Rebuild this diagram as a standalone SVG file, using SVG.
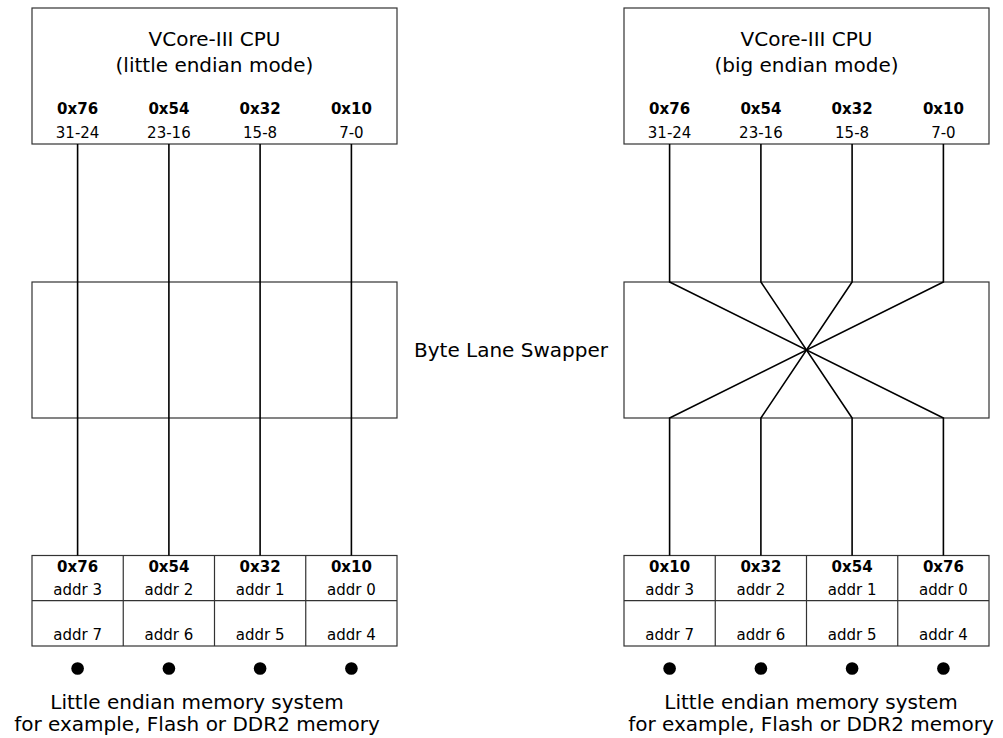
<svg xmlns="http://www.w3.org/2000/svg" width="1003" height="738" viewBox="0 0 1003 738">
<style>
.box{fill:#fff;stroke:#333;stroke-width:1.2}
.wire{fill:none;stroke:#000;stroke-width:1.6}
.t{font-family:"DejaVu Sans",Verdana,sans-serif;fill:#000;text-anchor:middle}
.big{font-size:20px}
.hex{font-size:15px;font-weight:bold}
.sm{font-size:15px}
.dot{fill:#000}
</style>
<rect width="1003" height="738" fill="#fff"/>
<g id="cpu-le">
<rect class="box" x="32" y="8" width="365" height="136"/>
<text class="t big" x="214.5" y="46">VCore-III CPU</text>
<text class="t big" x="214.5" y="72">(little endian mode)</text>
<text class="t hex" x="77.6" y="114">0x76</text>
<text class="t hex" x="168.9" y="114">0x54</text>
<text class="t hex" x="260.1" y="114">0x32</text>
<text class="t hex" x="351.4" y="114">0x10</text>
<text class="t sm" x="77.6" y="138">31-24</text>
<text class="t sm" x="168.9" y="138">23-16</text>
<text class="t sm" x="260.1" y="138">15-8</text>
<text class="t sm" x="351.4" y="138">7-0</text>
</g>
<g id="cpu-be">
<rect class="box" x="624" y="8" width="365" height="136"/>
<text class="t big" x="806.5" y="46">VCore-III CPU</text>
<text class="t big" x="806.5" y="72">(big endian mode)</text>
<text class="t hex" x="669.6" y="114">0x76</text>
<text class="t hex" x="760.9" y="114">0x54</text>
<text class="t hex" x="852.1" y="114">0x32</text>
<text class="t hex" x="943.4" y="114">0x10</text>
<text class="t sm" x="669.6" y="138">31-24</text>
<text class="t sm" x="760.9" y="138">23-16</text>
<text class="t sm" x="852.1" y="138">15-8</text>
<text class="t sm" x="943.4" y="138">7-0</text>
</g>
<g id="swapper-le">
<rect class="box" x="32" y="282" width="365" height="136"/>
</g>
<g id="swapper-be">
<rect class="box" x="624" y="282" width="365" height="136"/>
</g>
<g id="swapper-label">
<text class="t big" x="511" y="357">Byte Lane Swapper</text>
</g>
<g id="mem-le">
<rect class="box" x="32" y="555.5" width="365" height="90.5"/>
<path class="box" d="M32 600.7H397M123.25 555.5V646M214.5 555.5V646M305.75 555.5V646"/>
<text class="t hex" x="77.6" y="571.5">0x76</text>
<text class="t hex" x="168.9" y="571.5">0x54</text>
<text class="t hex" x="260.1" y="571.5">0x32</text>
<text class="t hex" x="351.4" y="571.5">0x10</text>
<text class="t sm" x="77.6" y="594.5">addr 3</text>
<text class="t sm" x="168.9" y="594.5">addr 2</text>
<text class="t sm" x="260.1" y="594.5">addr 1</text>
<text class="t sm" x="351.4" y="594.5">addr 0</text>
<text class="t sm" x="77.6" y="640">addr 7</text>
<text class="t sm" x="168.9" y="640">addr 6</text>
<text class="t sm" x="260.1" y="640">addr 5</text>
<text class="t sm" x="351.4" y="640">addr 4</text>
<circle class="dot" cx="77.6" cy="668.5" r="6.3"/>
<circle class="dot" cx="168.9" cy="668.5" r="6.3"/>
<circle class="dot" cx="260.1" cy="668.5" r="6.3"/>
<circle class="dot" cx="351.4" cy="668.5" r="6.3"/>
<text class="t big" x="197" y="709">Little endian memory system</text>
<text class="t big" x="197" y="731">for example, Flash or DDR2 memory</text>
</g>
<g id="mem-be">
<rect class="box" x="624" y="555.5" width="365" height="90.5"/>
<path class="box" d="M624 600.7H989M715.25 555.5V646M806.5 555.5V646M897.75 555.5V646"/>
<text class="t hex" x="669.6" y="571.5">0x10</text>
<text class="t hex" x="760.9" y="571.5">0x32</text>
<text class="t hex" x="852.1" y="571.5">0x54</text>
<text class="t hex" x="943.4" y="571.5">0x76</text>
<text class="t sm" x="669.6" y="594.5">addr 3</text>
<text class="t sm" x="760.9" y="594.5">addr 2</text>
<text class="t sm" x="852.1" y="594.5">addr 1</text>
<text class="t sm" x="943.4" y="594.5">addr 0</text>
<text class="t sm" x="669.6" y="640">addr 7</text>
<text class="t sm" x="760.9" y="640">addr 6</text>
<text class="t sm" x="852.1" y="640">addr 5</text>
<text class="t sm" x="943.4" y="640">addr 4</text>
<circle class="dot" cx="669.6" cy="668.5" r="6.3"/>
<circle class="dot" cx="760.9" cy="668.5" r="6.3"/>
<circle class="dot" cx="852.1" cy="668.5" r="6.3"/>
<circle class="dot" cx="943.4" cy="668.5" r="6.3"/>
<text class="t big" x="811" y="709">Little endian memory system</text>
<text class="t big" x="811" y="731">for example, Flash or DDR2 memory</text>
</g>
<g id="connectors">
<path class="wire" d="M77.6 144V555.5M168.9 144V555.5M260.1 144V555.5M351.4 144V555.5"/>
<path class="wire" d="M669.6 144V282L943.4 418V555.5"/>
<path class="wire" d="M760.9 144V282L852.1 418V555.5"/>
<path class="wire" d="M852.1 144V282L760.9 418V555.5"/>
<path class="wire" d="M943.4 144V282L669.6 418V555.5"/>
</g>
</svg>
